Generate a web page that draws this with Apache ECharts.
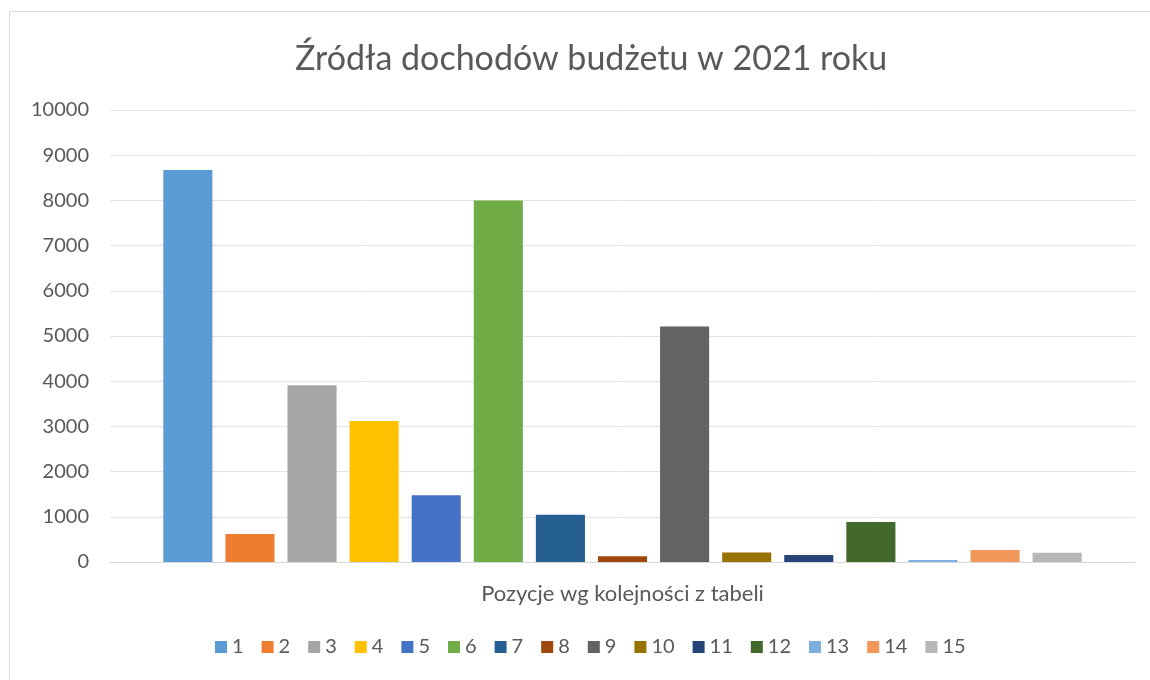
<!DOCTYPE html>
<html>
<head>
<meta charset="utf-8">
<script src="https://cdn.jsdelivr.net/npm/echarts@6/dist/echarts.min.js"></script>
<style>
  html, body { margin: 0; padding: 0; background: #fff; }
  #chart { width: 1150px; height: 680px; }
</style>
</head>
<body>
<div id="chart"></div>
<script>
// pozycje z tabeli (1..15) i ich wartosci
const positions = ['1', '2', '3', '4', '5', '6', '7', '8', '9', '10', '11', '12', '13', '14', '15'];
const values = [8670, 620, 3910, 3120, 1475, 8000, 1045, 125, 5210, 210, 155, 885, 45, 265, 205];
const colors = ['#5B9BD5', '#ED7D31', '#A5A5A5', '#FFC000', '#4472C4', '#70AD47', '#255E91', '#9E480E',
                '#636363', '#997300', '#264478', '#43682B', '#7CAFDD', '#F1975A', '#B7B7B7'];
const yTicks = [0, 10000, 1000];

const font = 'Lato, "Open Sans", sans-serif';
const chart = echarts.init(document.getElementById('chart'));

chart.setOption({
    color: colors,
    title: {
        text: 'Źródła dochodów budżetu w 2021 roku',
        left: 290,
        top: 37,
        textStyle: { fontFamily: font, fontSize: 34, fontWeight: 'normal', color: '#595959' }
    },
    graphic: [{
        type: 'rect',
        silent: true,
        shape: { x: 9.5, y: 11.5, width: 1200, height: 700 },
        style: { fill: 'none', stroke: '#d9d9d9', lineWidth: 1 }
    }],
    legend: {
        left: 210,
        top: 632,
        itemWidth: 12,
        itemHeight: 12,
        itemGap: 18,
        icon: 'rect',
        textStyle: { fontFamily: font, fontSize: 20, color: '#595959' }
    },
    grid: { left: 110, right: 15, top: 110, bottom: 118 },
    xAxis: {
        type: 'category',
        data: [''],
        name: 'Pozycje wg kolejności z tabeli',
        nameLocation: 'middle',
        nameGap: 21,
        nameTextStyle: { fontFamily: font, fontSize: 22, color: '#595959' },
        axisLine: { lineStyle: { color: '#d9d9d9' } },
        axisTick: { show: false },
        axisLabel: { show: false }
    },
    yAxis: {
        type: 'value',
        min: yTicks[0],
        max: yTicks[1],
        interval: yTicks[2],
        axisLabel: {
            fontFamily: font, fontSize: 20, color: '#595959', margin: 21,
            formatter: v => String(v)
        },
        axisLine: { show: false },
        axisTick: { show: false },
        splitLine: { lineStyle: { color: '#e3e3e3' } }
    },
    series: positions.map((name, i) => ({
        name: name,
        type: 'bar',
        data: [values[i]],
        barGap: '26.5%',
        barCategoryGap: '10.4%',
        itemStyle: { color: colors[i] }
    }))
});
</script>
</body>
</html>
